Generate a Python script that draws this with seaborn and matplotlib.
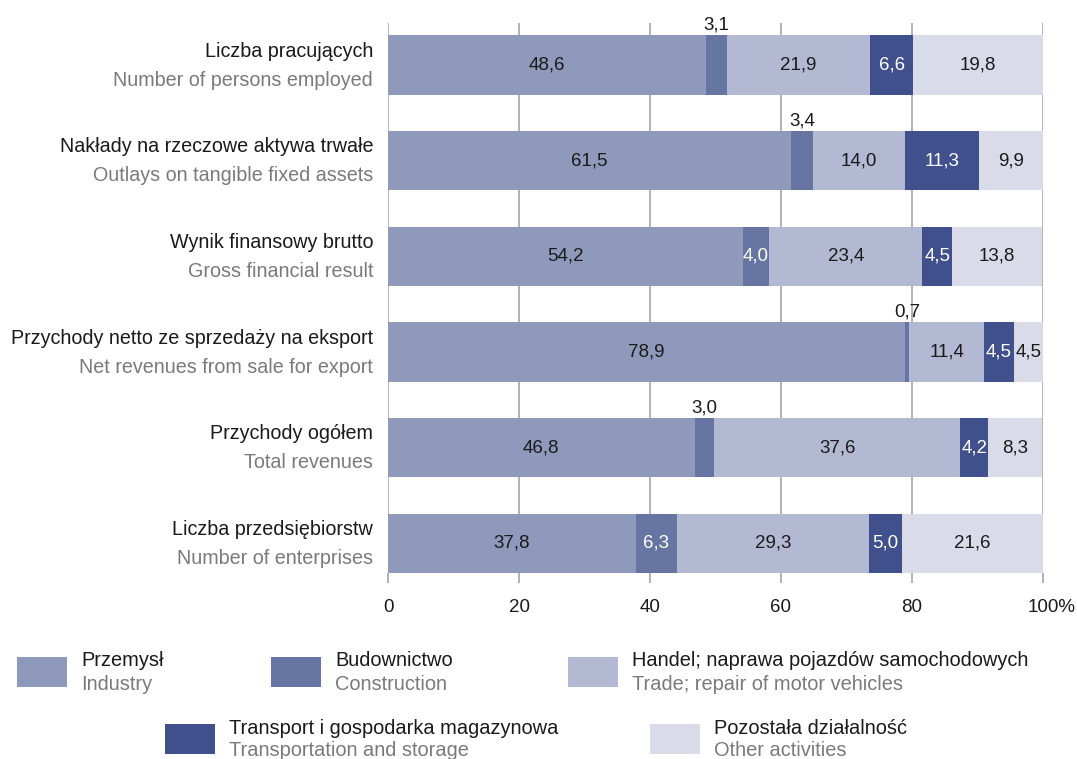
import numpy as np
import pandas as pd
import matplotlib
matplotlib.use("Agg")
import matplotlib.pyplot as plt
import matplotlib.transforms as mtransforms
from matplotlib.patches import Rectangle
import seaborn as sns

# Indicator names (Polish / English)
categories_pl = [
    "Liczba pracujących",
    "Nakłady na rzeczowe aktywa trwałe",
    "Wynik finansowy brutto",
    "Przychody netto ze sprzedaży na eksport",
    "Przychody ogółem",
    "Liczba przedsiębiorstw",
]
categories_en = [
    "Number of persons employed",
    "Outlays on tangible fixed assets",
    "Gross financial result",
    "Net revenues from sale for export",
    "Total revenues",
    "Number of enterprises",
]

# Section names (Polish / English)
sections_pl = ["Przemysł", "Budownictwo", "Handel; naprawa pojazdów samochodowych",
               "Transport i gospodarka magazynowa", "Pozostała działalność"]
sections_en = ["Industry", "Construction", "Trade; repair of motor vehicles",
               "Transportation and storage", "Other activities"]

# Shares in % for each indicator
industry = [48.6, 61.5, 54.2, 78.9, 46.8, 37.8]
construction = [3.1, 3.4, 4.0, 0.7, 3.0, 6.3]
trade = [21.9, 14.0, 23.4, 11.4, 37.6, 29.3]
transport = [6.6, 11.3, 4.5, 4.5, 4.2, 5.0]
other = [19.8, 9.9, 13.8, 4.5, 8.3, 21.6]

xticks = [0, 20, 40, 60, 80, 100]
xtick_labels = ["0", "20", "40", "60", "80", "100%"]

colors = ["#8e99bb", "#6775a3", "#b3b9d3", "#40508c", "#d9dce8"]
text_colors = ["#1a1a1a", "white", "#1a1a1a", "white", "#1a1a1a"]

sns.set_theme(style="white")
plt.rcParams["font.family"] = ["Liberation Sans", "DejaVu Sans"]

series = [industry, construction, trade, transport, other]
values = np.array(series)            # shape (5 sections, 6 indicators)
cum_right = np.cumsum(values, axis=0)
cum_left = cum_right - values

fig = plt.figure(figsize=(10.77, 7.59), dpi=100)
ax = fig.add_axes([388 / 1077, 186 / 759, 655 / 1077, 550 / 759])

BAR_H = 0.62
# Stacked bars: draw cumulative totals from the outermost section inwards
for k in range(len(series) - 1, -1, -1):
    df = pd.DataFrame({"indicator": categories_pl, "value": cum_right[k]})
    sns.barplot(data=df, x="value", y="indicator", orient="h", color=colors[k],
                saturation=1, width=BAR_H, ax=ax, zorder=3, linewidth=0)

ax.set_xlim(0, 100)
ax.set_ylim(len(categories_pl) - 1 + BAR_H / 2, -0.44)
ax.set_xlabel("")
ax.set_ylabel("")
ax.set_yticks([])
ax.set_xticks(xticks)
ax.set_xticklabels(xtick_labels, fontsize=13.5, color="#1a1a1a")
ax.tick_params(axis="x", length=7.5, width=1.2, color="#a6a6a6", pad=11, bottom=True)
# keep "100" centred on its tick, with the % sign hanging to the right
last = ax.get_xticklabels()[-1]
last.set_transform(last.get_transform() +
                   mtransforms.ScaledTranslation(9 / 100, 0, fig.dpi_scale_trans))
for s in ax.spines.values():
    s.set_visible(False)
ax.grid(axis="x", color="#a6a6a6", linewidth=1.2, zorder=0)
ax.grid(axis="y", visible=False)
ax.set_axisbelow(True)

# Value labels
for k in range(len(series)):
    for i in range(len(categories_pl)):
        v = values[k, i]
        xc = cum_left[k, i] + v / 2
        txt = f"{v:.1f}".replace(".", ",")
        if v < 3.5:
            ax.annotate(txt, xy=(xc, i - BAR_H / 2), xytext=(0, 2),
                        textcoords="offset pixels", ha="center", va="bottom",
                        fontsize=13.5, color="#1a1a1a", zorder=5)
        else:
            ax.text(xc, i, txt, ha="center", va="center", fontsize=13.5,
                    color=text_colors[k], zorder=5)

# Two-line indicator labels
for i in range(len(categories_pl)):
    ax.annotate(categories_pl[i], xy=(0, i), xytext=(-15, 14), textcoords="offset pixels",
                ha="right", va="center", fontsize=14.2, color="#1a1a1a", annotation_clip=False)
    ax.annotate(categories_en[i], xy=(0, i), xytext=(-15, -15), textcoords="offset pixels",
                ha="right", va="center", fontsize=14.2, color="#7a7a7a", annotation_clip=False)

# Legend
W, H = 1077, 759
legend_items = [
    (17, 657, 0), (271, 657, 1), (568, 657, 2),
    (165, 724, 3), (650, 724, 4),
]
for x0, y0, k in legend_items:
    fig.add_artist(Rectangle((x0 / W, 1 - (y0 + 30) / H), 50 / W, 30 / H,
                             transform=fig.transFigure, facecolor=colors[k], edgecolor="none"))
    fig.text((x0 + 64) / W, 1 - (y0 + 4) / H, sections_pl[k], ha="left", va="center",
             fontsize=14.4, color="#1a1a1a")
    fig.text((x0 + 64) / W, 1 - (y0 + 27) / H, sections_en[k], ha="left", va="center",
             fontsize=14.4, color="#7a7a7a")

fig.savefig("out.png", dpi=100)
